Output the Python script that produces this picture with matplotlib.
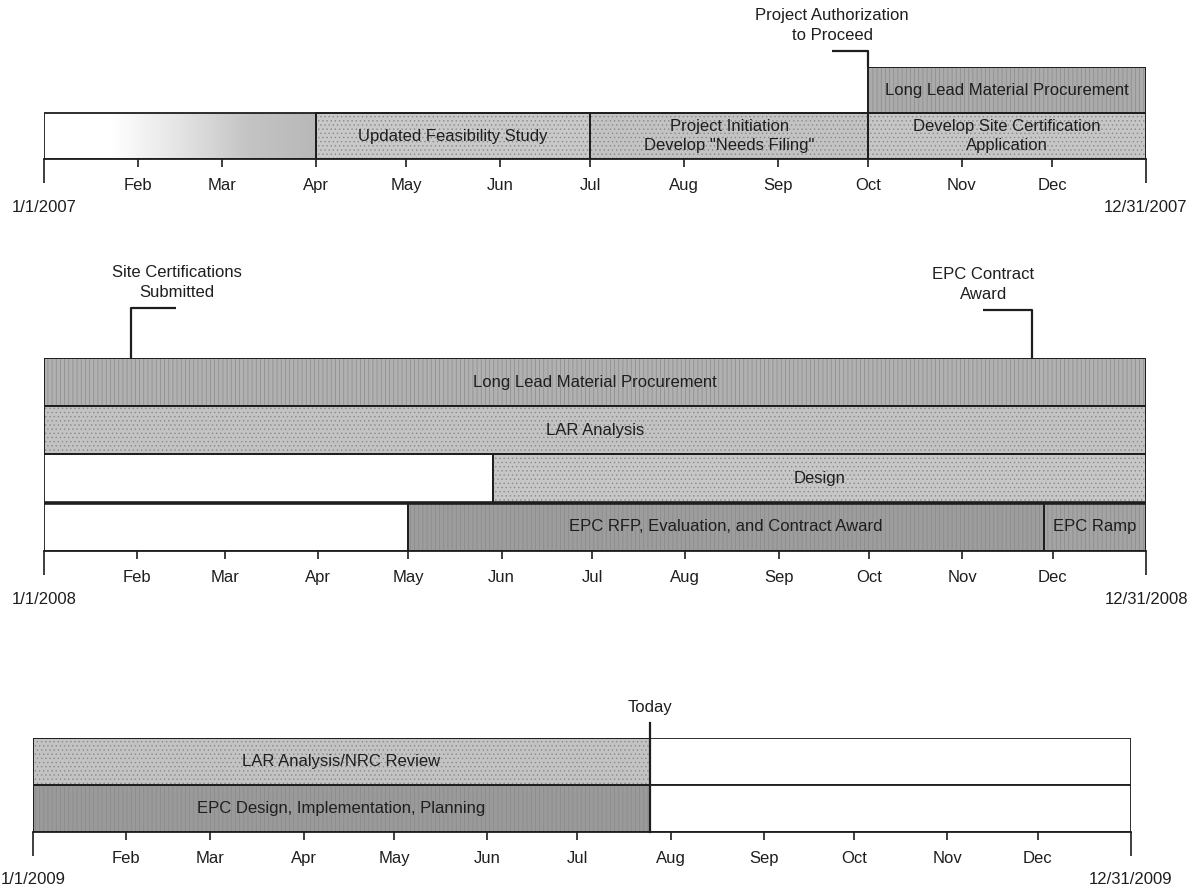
import datetime as dt
import numpy as np
import matplotlib
matplotlib.use("Agg")
import matplotlib.pyplot as plt
import matplotlib.dates as mdates
from matplotlib.colors import LinearSegmentedColormap
from matplotlib.transforms import blended_transform_factory

plt.rcParams['font.family'] = ['Liberation Sans', 'DejaVu Sans']
plt.rcParams['hatch.linewidth'] = 0.5

# ---------------- 2007 ----------------
tasks_2007 = ["", "Updated Feasibility Study", 'Project Initiation\nDevelop "Needs Filing"',
              "Develop Site Certification\nApplication", "Long Lead Material Procurement"]
start_2007 = ["2007-01-01", "2007-04-01", "2007-07-01", "2007-10-01", "2007-10-01"]
end_2007 = ["2007-04-01", "2007-07-01", "2007-10-01", "2008-01-01", "2008-01-01"]
row_2007 = [0, 0, 0, 0, 1]
milestones_2007 = ["Project Authorization\nto Proceed"]
milestone_dates_2007 = ["2007-10-01"]

# ---------------- 2008 ----------------
tasks_2008 = ["Long Lead Material Procurement", "LAR Analysis", "", "Design", "",
              "EPC RFP, Evaluation, and Contract Award", "EPC Ramp"]
start_2008 = ["2008-01-01", "2008-01-01", "2008-01-01", "2008-05-29",
              "2008-01-01", "2008-05-01", "2008-11-28"]
end_2008 = ["2009-01-01", "2009-01-01", "2008-05-29", "2009-01-01",
            "2008-05-01", "2008-11-28", "2009-01-01"]
row_2008 = [3, 2, 1, 1, 0, 0, 0]
milestones_2008 = ["Site Certifications\nSubmitted", "EPC Contract\nAward"]
milestone_dates_2008 = ["2008-01-30", "2008-11-24"]

# ---------------- 2009 ----------------
tasks_2009 = ["LAR Analysis/NRC Review", "", "EPC Design, Implementation, Planning", ""]
start_2009 = ["2009-01-01", "2009-07-25", "2009-01-01", "2009-07-25"]
end_2009 = ["2009-07-25", "2010-01-01", "2009-07-25", "2010-01-01"]
row_2009 = [1, 1, 0, 0]
today_label = "Today"
today_date = "2009-07-25"

# ---------------- styling ----------------
fill_2007 = ["fade", "#c9c9c9", "#c3c3c3", "#c6c6c6", "#ababab"]
hatch_2007 = ["", "....", "....", "....", "||||"]
fill_2008 = ["#b1b1b1", "#c3c3c3", "white", "#c7c7c7", "white", "#9d9d9d", "#a4a4a4"]
hatch_2008 = ["||||", "....", "", "....", "", "||||", "||||"]
fill_2009 = ["#c3c3c3", "white", "#9a9a9a", "white"]
hatch_2009 = ["....", "", "||||", ""]

INK = "#1e1e1e"
PT = 0.72  # points per pixel at 100 dpi
W, H = 1190, 889
fig = plt.figure(figsize=(W / 100, H / 100), dpi=100)
fig.patch.set_facecolor("white")


def add_panel(x_left, x_right, y_top, y_bottom):
    ax = fig.add_axes([x_left / W, 1 - y_bottom / H,
                       (x_right - x_left) / W, (y_bottom - y_top) / H])
    ax.set_facecolor("none")
    return ax, (y_bottom - y_top)


def draw_panel(ax, year, nrows, tasks, starts, ends, rows, fills, hatches):
    x0 = mdates.date2num(dt.datetime(year, 1, 1))
    x1 = mdates.date2num(dt.datetime(year + 1, 1, 1))
    s_num = mdates.datestr2num(starts)
    e_num = mdates.datestr2num(ends)
    for name, a, b, r, f, h in zip(tasks, s_num, e_num, rows, fills, hatches):
        if f == "fade":
            cmap = LinearSegmentedColormap.from_list(
                "fade", ["white", "white", "#e4e4e4", "#c4c4c4", "#b8b8b8"])
            ax.imshow(np.linspace(0, 1, 256)[None, :], extent=[a, b, r, r + 1],
                      aspect="auto", cmap=cmap, zorder=1, interpolation="bilinear")
            ax.barh(r + 0.5, b - a, left=a, height=1, color="none",
                    edgecolor=INK, linewidth=1.3, zorder=3)
        else:
            ax.barh(r + 0.5, b - a, left=a, height=1, color=f,
                    edgecolor=INK, linewidth=1.3, zorder=2)
        if h:
            ax.barh(r + 0.5, b - a, left=a, height=1, color="none",
                    edgecolor="#8a8a8a", linewidth=0, hatch=h, zorder=2.5)
            ax.barh(r + 0.5, b - a, left=a, height=1, color="none",
                    edgecolor=INK, linewidth=1.3, zorder=3)
        if name:
            ax.text((a + b) / 2, r + 0.5, name, ha="center", va="center",
                    fontsize=12, color=INK, zorder=4, linespacing=1.4)

    ax.set_xlim(x0, x1)
    ax.set_ylim(0, nrows)
    for side in ["top", "left", "right"]:
        ax.spines[side].set_visible(False)
    ax.spines["bottom"].set_linewidth(1.3)
    ax.spines["bottom"].set_color(INK)
    ax.set_yticks([])
    months = [dt.datetime(year, m, 1) for m in range(2, 13)]
    ax.set_xticks(mdates.date2num(months))
    ax.set_xticklabels([d.strftime("%b") for d in months])
    ax.set_xticks([x0, x1], minor=True)
    ax.tick_params(axis="x", which="major", length=6, width=1.2, pad=8,
                   labelsize=12, colors=INK)
    ax.tick_params(axis="x", which="minor", length=17, width=1.2, colors=INK)
    for xv, lab in [(x0, f"1/1/{year}"), (x1, f"12/31/{year}")]:
        ax.annotate(lab, xy=(xv, 0), xycoords=("data", "axes fraction"),
                    xytext=(0, -48 * PT), textcoords="offset points",
                    ha="center", va="center", fontsize=12, color=INK,
                    annotation_clip=False)


def callout(ax, ax_h, date, label, dx_days, rise_px):
    m = mdates.datestr2num(date)
    tr = blended_transform_factory(ax.transData, ax.transAxes)
    yt = 1 + rise_px / ax_h
    ax.plot([m, m, m + dx_days], [1, yt, yt], transform=tr, clip_on=False,
            color=INK, linewidth=1.6, solid_capstyle="butt")
    ax.annotate(label, xy=(m + dx_days, yt), xycoords=("data", "axes fraction"),
                xytext=(0, 8 * PT), textcoords="offset points", ha="center",
                va="bottom", fontsize=12, color=INK, linespacing=1.4,
                annotation_clip=False)


# 2007 panel
ax1, h1 = add_panel(44, 1146, 67, 159)
draw_panel(ax1, 2007, 2, tasks_2007, start_2007, end_2007, row_2007, fill_2007, hatch_2007)
for lab, d, dx, rise in zip(milestones_2007, milestone_dates_2007, [-12], [16]):
    callout(ax1, h1, d, lab, dx, rise)

# 2008 panel
ax2, h2 = add_panel(44, 1146, 358, 551)
draw_panel(ax2, 2008, 4, tasks_2008, start_2008, end_2008, row_2008, fill_2008, hatch_2008)
ax2.axhline(1, color=INK, linewidth=2.6, zorder=3.5)
for lab, d, dx, rise in zip(milestones_2008, milestone_dates_2008, [15, -16], [50, 48]):
    callout(ax2, h2, d, lab, dx, rise)

# 2009 panel
ax3, h3 = add_panel(33, 1131, 738, 832)
draw_panel(ax3, 2009, 2, tasks_2009, start_2009, end_2009, row_2009, fill_2009, hatch_2009)
t = mdates.datestr2num(today_date)
tr3 = blended_transform_factory(ax3.transData, ax3.transAxes)
ax3.plot([t, t], [0, 1 + 15 / h3], transform=tr3, clip_on=False, color=INK,
         linewidth=1.6, zorder=5)
ax3.annotate(today_label, xy=(t, 1 + 15 / h3), xycoords=("data", "axes fraction"),
             xytext=(0, 8 * PT), textcoords="offset points", ha="center", va="bottom",
             fontsize=12, color=INK, annotation_clip=False)

fig.savefig("out.png", dpi=100, facecolor="white")
